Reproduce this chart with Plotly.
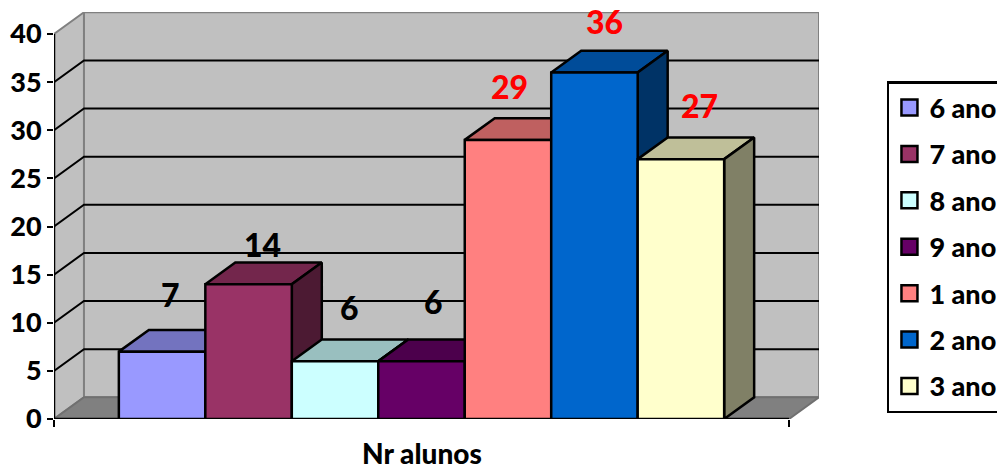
import plotly.graph_objects as go

# Data
series_names = ["6 ano", "7 ano", "8 ano", "9 ano", "1 ano", "2 ano", "3 ano"]
series_values = [7, 14, 6, 6, 29, 36, 27]
category_label = "Nr alunos"
y_ticks = [0, 5, 10, 15, 20, 25, 30, 35, 40]

# Style
colors = ["#9999FF", "#993366", "#CCFFFF", "#660066", "#FF8080", "#0066CC", "#FFFFCC"]
label_colors = ["black", "black", "black", "black", "red", "red", "red"]
label_dx = [8, 14, 14, 12, 2, 10, 19]
label_dy = [57, 40, 54, 60, 53, 51, 54]
FONT = "Lato"
WEIGHT = 900
W, H = 997, 465
L, R, T, B = 53.5, 819, 12, 419
PX_X = 735.5            # pixels per unit of the category axis
PX_Y = 9.625            # pixels per unit of the value axis
DX = (R - L - PX_X) / PX_X
DY = 21.7 / PX_Y
GAP = 1.5
BAR_W = 1 / (len(series_values) + GAP)
Y_TOP = (B - T) / PX_Y
YMAX = max(y_ticks)


def shade(hex_color, f):
    r, g, b = (int(hex_color[i:i + 2], 16) for i in (1, 3, 5))
    return f"rgb({round(r * f)},{round(g * f)},{round(b * f)})"


def poly(xs, ys, fill, line="black", width=2.5, name=None):
    return go.Scatter(
        x=xs + xs[:1], y=ys + ys[:1], mode="lines", fill="toself", fillcolor=fill,
        line=dict(color=line, width=width), showlegend=False, hoverinfo="skip",
        cliponaxis=False, name=name,
    )


fig = go.Figure()

# Walls and floor
fig.add_trace(poly([0, DX, DX, 0], [0, DY, YMAX + DY, YMAX], "#C0C0C0", "#808080", 2))
fig.add_trace(poly([DX, 1 + DX, 1 + DX, DX], [DY, DY, YMAX + DY, YMAX + DY], "#C0C0C0", "#808080", 2))
fig.add_trace(poly([0, DX, 1 + DX, 1], [0, DY, DY, 0], "#808080", "#707070", 2))

# Gridlines over the side and back walls
gx, gy = [], []
for v in y_ticks[1:-1]:
    gx += [0, DX, 1 + DX, None]
    gy += [v, v + DY, v + DY, None]
fig.add_trace(go.Scatter(x=gx, y=gy, mode="lines", line=dict(color="black", width=2),
                         showlegend=False, hoverinfo="skip", cliponaxis=False))

# Axis lines
fig.add_trace(go.Scatter(x=[0, 0, None, 0, 1], y=[0, YMAX, None, 0, 0], mode="lines",
                         line=dict(color="black", width=2.5), showlegend=False,
                         hoverinfo="skip", cliponaxis=False))

# Bars: top, side and then front, left to right
annotations = []
for i, (name, v, c) in enumerate(zip(series_names, series_values, colors)):
    x0 = (GAP / 2 + i) * BAR_W
    x1 = x0 + BAR_W
    fig.add_trace(poly([x0, x0 + DX, x1 + DX, x1], [v, v + DY, v + DY, v], shade(c, 0.75)))
    fig.add_trace(poly([x1, x1 + DX, x1 + DX, x1], [0, DY, v + DY, v], shade(c, 0.5)))
    fig.add_trace(poly([x0, x1, x1, x0], [0, 0, v, v], c, name=name))
    annotations.append(dict(
        x=(x0 + x1) / 2, y=v, xref="x", yref="y", text=str(v), showarrow=False,
        xshift=label_dx[i], yshift=label_dy[i],
        font=dict(family=FONT, size=32, color=label_colors[i], weight=WEIGHT),
    ))

# Legend keys
for name, c in zip(series_names, colors):
    fig.add_trace(go.Scatter(
        x=[None], y=[None], mode="markers", name=name, legendgroup=name,
        marker=dict(symbol="square", size=18, color=c, line=dict(color="black", width=2.5)),
        hoverinfo="skip",
    ))

annotations.append(dict(
    x=0.5, y=0, xref="x", yref="y", text=category_label, showarrow=False, yshift=-34,
    font=dict(family=FONT, size=28, color="black", weight=WEIGHT),
))

fig.update_layout(
    width=W, height=H, autosize=False,
    margin=dict(l=L, r=W - R, t=T, b=H - B, pad=0, autoexpand=False),
    paper_bgcolor="white", plot_bgcolor="white",
    font=dict(family=FONT, size=27, color="black", weight=WEIGHT),
    annotations=annotations,
    showlegend=True,
    legend=dict(
        x=(887 - L) / (R - L), xanchor="left", y=(B - 81) / (B - T), yanchor="top",
        bgcolor="white", bordercolor="black", borderwidth=2.5, tracegroupgap=8.3,
        font=dict(family=FONT, size=27, color="black", weight=WEIGHT),
        itemclick=False, itemdoubleclick=False,
    ),
    xaxis=dict(
        range=[0, 1 + DX], tickmode="array", tickvals=[0, 1], ticktext=["", ""],
        ticks="outside", ticklen=7, tickwidth=2, tickcolor="black",
        showgrid=False, zeroline=False, showline=False, fixedrange=True,
    ),
    yaxis=dict(
        range=[0, Y_TOP], tickmode="array", tickvals=y_ticks,
        ticktext=[str(t) for t in y_ticks],
        ticks="outside", ticklen=6, tickwidth=2, tickcolor="black",
        showgrid=False, zeroline=False, showline=False, fixedrange=True,
        tickfont=dict(family=FONT, size=27, color="black", weight=WEIGHT),
    ),
)

fig.write_html("out.html", config={"displayModeBar": False},
               post_script="document.body.style.margin='0';")
